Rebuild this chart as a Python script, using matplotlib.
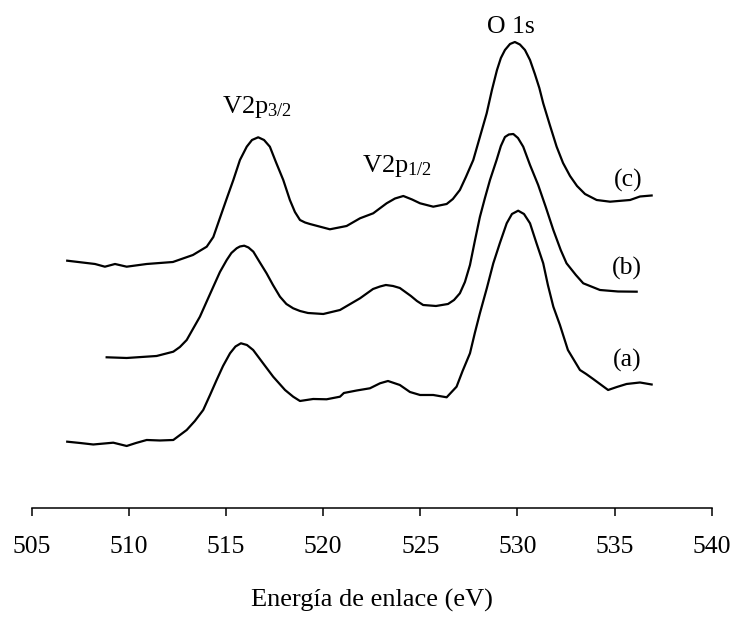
import matplotlib
matplotlib.use("Agg")
import matplotlib.pyplot as plt

# Espectros XPS de V2p y O1s, muestras (a), (b), (c), desplazados verticalmente
plt.rcParams['font.family'] = 'serif'
plt.rcParams['font.serif'] = ['Liberation Serif', 'DejaVu Serif']
plt.rcParams['mathtext.fontset'] = 'custom'
plt.rcParams['mathtext.rm'] = 'Liberation Serif'

# Energía de enlace (eV) e intensidad (u.a.)
energia_a = [506.83, 507.49, 508.17, 509.20, 509.89, 510.37, 510.92, 511.60, 512.29, 512.98,
             513.40, 513.83, 514.18, 514.52, 514.85, 515.21, 515.49, 515.77, 516.08, 516.40,
             516.90, 517.43, 518.04, 518.46, 518.81, 519.49, 520.18, 520.87, 521.07, 521.73,
             522.41, 522.93, 523.34, 523.95, 524.47, 524.99, 525.67, 526.36, 526.87, 527.18,
             527.56, 527.81, 528.07, 528.43, 528.76, 529.10, 529.45, 529.72, 530.04, 530.34,
             530.65, 530.98, 531.33, 531.57, 531.85, 532.19, 532.60, 533.22, 533.54, 533.90,
             534.25, 534.67, 535.12, 535.62, 536.31, 536.91]
intens_a = [66.6, 65.3, 63.8, 65.6, 62.3, 65.3, 68.3, 67.8, 68.3, 78.3,
            87.3, 98.3, 113.3, 128.3, 142.3, 155.0, 161.8, 165.0, 163.3, 158.3,
            145.3, 131.6, 118.3, 111.6, 107.3, 109.3, 109.0, 111.6, 115.3, 117.8,
            120.0, 125.0, 127.3, 123.3, 116.3, 113.3, 113.3, 111.0, 121.6, 137.3,
            155.0, 175.3, 195.0, 220.3, 245.0, 265.3, 285.0, 294.3, 297.6, 294.3,
            285.0, 265.3, 245.0, 223.3, 201.6, 183.3, 158.3, 138.3, 134.3, 129.3,
            124.3, 118.3, 121.3, 124.3, 125.8, 123.8]

energia_b = [508.86, 509.89, 511.43, 512.29, 512.63, 512.98, 513.30, 513.66, 514.02, 514.35,
             514.69, 515.04, 515.28, 515.55, 515.72, 515.94, 516.16, 516.41, 516.70, 517.09,
             517.42, 517.78, 518.11, 518.46, 518.81, 519.22, 520.01, 520.87, 521.90, 522.57,
             522.93, 523.23, 523.60, 523.95, 524.52, 524.83, 525.15, 525.81, 526.43, 526.74,
             527.04, 527.30, 527.56, 527.81, 528.07, 528.33, 528.59, 528.93, 529.15, 529.36,
             529.56, 529.79, 530.03, 530.30, 530.65, 531.07, 531.46, 531.85, 532.23, 532.53,
             533.01, 533.39, 534.25, 535.18, 536.14]
intens_b = [151.0, 150.3, 152.3, 156.6, 161.3, 168.3, 179.3, 191.6, 207.3, 221.6,
            236.3, 248.3, 255.3, 260.0, 261.8, 262.6, 260.8, 256.6, 247.3, 235.0,
            223.3, 211.6, 204.3, 200.0, 197.3, 195.3, 194.3, 198.3, 210.0, 219.3,
            221.8, 223.3, 222.3, 220.3, 212.3, 207.3, 203.3, 202.3, 204.3, 208.3,
            215.0, 226.3, 243.3, 267.3, 291.3, 310.3, 328.3, 348.3, 362.3, 371.3,
            373.8, 374.3, 370.3, 361.6, 343.3, 323.3, 301.3, 278.3, 258.3, 245.0,
            233.3, 225.0, 218.3, 216.8, 216.6]

energia_c = [506.83, 508.26, 508.77, 509.29, 509.89, 510.92, 512.27, 513.30, 514.01, 514.35,
             514.69, 515.05, 515.38, 515.72, 516.07, 516.34, 516.66, 516.96, 517.26, 517.57,
             517.95, 518.29, 518.55, 518.81, 519.07, 519.32, 520.35, 521.21, 521.90, 522.58,
             523.27, 523.70, 524.13, 524.58, 524.99, 525.67, 526.36, 526.68, 527.04, 527.35,
             527.73, 528.07, 528.42, 528.69, 528.95, 529.15, 529.36, 529.62, 529.87, 530.13,
             530.39, 530.65, 530.90, 531.13, 531.33, 531.67, 532.02, 532.35, 532.71, 533.07,
             533.48, 534.08, 534.77, 535.80, 536.31, 536.91]
intens_c = [247.6, 244.3, 241.6, 244.3, 241.6, 244.3, 246.3, 253.3, 261.6, 271.3,
            290.3, 310.3, 328.3, 348.3, 361.6, 368.3, 371.0, 368.3, 361.6, 346.3,
            328.3, 308.3, 296.3, 288.3, 285.8, 284.3, 279.0, 282.3, 290.0, 295.0,
            305.0, 309.8, 312.3, 308.8, 305.0, 301.6, 304.3, 309.3, 318.3, 331.3,
            348.3, 371.3, 395.0, 418.3, 438.3, 450.3, 458.3, 464.3, 466.3, 463.8,
            458.3, 448.3, 434.3, 420.3, 405.0, 383.3, 361.6, 345.3, 332.3, 322.3,
            314.3, 308.3, 306.6, 308.3, 311.8, 312.8]

ticks_x = [505, 510, 515, 520, 525, 530, 535, 540]

fig = plt.figure(figsize=(7.33, 6.17), dpi=100)
ax = fig.add_axes([0.0432, 0.1762, 0.9277, 0.8238])

for e, i in [(energia_a, intens_a), (energia_b, intens_b), (energia_c, intens_c)]:
    ax.plot(e, i, color='black', lw=1.6, solid_joinstyle='round')

ax.set_xlim(505, 540)
ax.set_ylim(0, 508.3)
ax.set_xticks(ticks_x)
ax.set_yticks([])
for s in ['left', 'right', 'top']:
    ax.spines[s].set_visible(False)
ax.spines['bottom'].set_linewidth(1.1)
ax.tick_params(axis='x', direction='out', length=6, width=1.1, pad=14, labelsize=18.5)
ax.set_xlabel('Energía de enlace (eV)', fontsize=19, labelpad=22)

# etiquetas de picos y muestras
ax.text(514.78, 395, r'$\mathregular{V2p_{3/2}}$', fontsize=19, ha='left', va='baseline')
ax.text(521.98, 336.6, r'$\mathregular{V2p_{1/2}}$', fontsize=19, ha='left', va='baseline')
ax.text(529.67, 475, 'O 1s', fontsize=18.5, ha='center', va='baseline')
ax.text(535.70, 328, '(c)', fontsize=18.5, ha='center', va='center')
ax.text(535.65, 240, '(b)', fontsize=18.5, ha='center', va='center')
ax.text(535.65, 148, '(a)', fontsize=18.5, ha='center', va='center')

plt.savefig('out.png', dpi=100)
